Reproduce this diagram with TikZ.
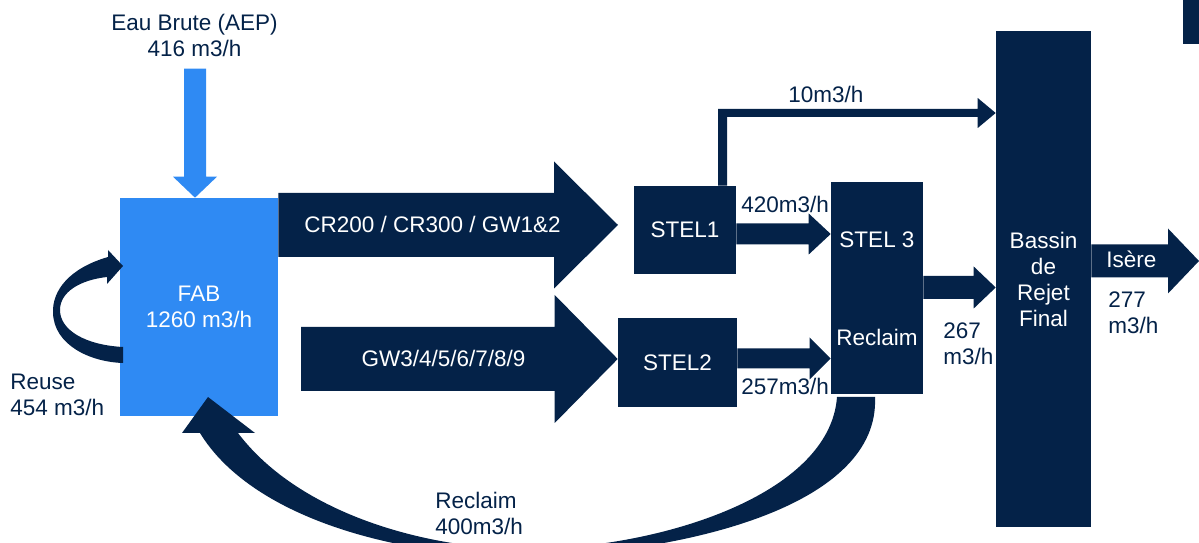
\documentclass[tikz,border=0pt]{standalone}
\usepackage{fontspec}
\setmainfont{Liberation Sans}
\usetikzlibrary{calc}
\definecolor{navy}{HTML}{042248}
\definecolor{skyblue}{HTML}{2F8AF3}

% block arrow: [colour]{tail}{tip}{half shaft}{half head}{head length}
\newcommand{\flowarrow}[6][navy]{%
  \fill[#1] ($(#2)+(0,-#4)$) -- ($(#3)+(-#6,-#4)$) -- ($(#3)+(-#6,-#5)$) -- (#3)
    -- ($(#3)+(-#6,#5)$) -- ($(#3)+(-#6,#4)$) -- ($(#2)+(0,#4)$) -- cycle;}

\begin{document}
\begin{tikzpicture}[x=0.025cm, y=-0.025cm,
  every node/.style={font=\fontsize{16}{18.5}\selectfont},
  box/.style={fill=navy, text=white, inner sep=0pt, align=center},
  lbl/.style={text=navy, inner sep=0pt, align=left}]
  \useasboundingbox (0,0) rectangle (1199,543);
  \clip (0,0) rectangle (1199,543);

  % one step = one pixel, y pointing down
  \node[box, fill=skyblue, minimum width=3.95cm, minimum height=5.45cm] (fab) at (199,307) {FAB\\1260 m3/h};
  \node[box, minimum width=2.55cm, minimum height=2.2cm] (stelA) at (685,230) {STEL1};
  \node[box, minimum width=2.975cm, minimum height=2.225cm] (stelB) at (677.5,362.5) {STEL2};
  \node[box, minimum width=2.3cm, minimum height=5.3cm] (stelC) at (877,288) {};
  \node[box, minimum width=2.375cm, minimum height=12.4cm] (bassin) at (1043.5,279) {Bassin\\de\\Rejet\\Final};
  \fill[navy] (1183,0) rectangle (1199,44);

  % raw water in
  \coordinate (aeptip) at (fab.north -| 195,0);
  \fill[skyblue] ($(aeptip)+(-11,-129)$) -- ($(aeptip)+(-11,-21)$) -- ($(aeptip)+(-22,-21)$) -- (aeptip)
    -- ($(aeptip)+(22,-21)$) -- ($(aeptip)+(11,-21)$) -- ($(aeptip)+(11,-129)$) -- cycle;

  % straight flows
  \coordinate (crtip) at (618,225);
  \coordinate (gwtail) at (301,359);
  \coordinate (iseretip) at (1199,261);
  \flowarrow{fab.east |- crtip}{crtip}{32}{63.5}{64}
  \flowarrow{gwtail}{stelB.west |- gwtail}{32}{64}{63}
  \flowarrow{stelA.east |- 0,234}{stelC.west |- 0,234}{10.5}{20.5}{22}
  \flowarrow{stelB.east |- 0,358.5}{stelC.west |- 0,358.5}{10}{21}{21}
  \flowarrow{stelC.east |- 0,287.5}{bassin.west |- 0,287.5}{11.5}{21}{22}
  \flowarrow{bassin.east |- iseretip}{iseretip}{16.5}{32.5}{31}

  % bypass STEL1 -> bassin
  \coordinate (tenfoot) at (stelA.north -| 722.5,0);
  \coordinate (tentip) at (bassin.west |- 0,113);
  \fill[navy] ($(tenfoot)+(-4.5,0)$) |- ($(tentip)+(-18,-4)$) -- ($(tentip)+(-18,-15)$) -- (tentip)
    -- ($(tentip)+(-18,15)$) -- ($(tentip)+(-18,4)$) -| ($(tenfoot)+(4.5,0)$) -- cycle;

  % reuse loop
  \fill[navy] (123,266) -- (108,250) -- (108,257) .. controls (70,268) and (52,290) .. (53,313)
    .. controls (54,345) and (90,362) .. (123,363) -- (123,347) .. controls (85,345) and (60,330) .. (60,310)
    .. controls (60,292) and (80,280) .. (107,277) -- (107,284) -- cycle;

  % reclaim back to FAB
  \fill[navy] (208,397) -- (255,433) -- (238,433) .. controls (300,515) and (430,550) .. (530,549)
    .. controls (660,548) and (830,495) .. (837,397) -- (875,397) .. controls (880,505) and (690,552) .. (530,557)
    .. controls (390,557) and (250,515) .. (200,433) -- (182,433) -- cycle;

  % labels
  \node[lbl, align=center] (aep) at (194.5,35) {Eau Brute (AEP)\\416 m3/h};
  \node[lbl, anchor=west] (reuse) at (10,395) {Reuse\\454 m3/h};
  \node[lbl, anchor=base, text=white] (crlbl) at (432.5,233) {CR200 / CR300 / GW1\&2};
  \node[lbl, anchor=base, text=white] (gwlbl) at (443.5,367) {GW3/4/5/6/7/8/9};
  \node[lbl, text=white] (stelCname) at (877,240) {STEL 3};
  \node[lbl, text=white] (stelCsub) at (877,337) {Reclaim};
  \node[lbl, anchor=base west] (q420) at (741,213) {420m3/h};
  \node[lbl, anchor=base west] (q257) at (741,395) {257m3/h};
  \node[lbl, anchor=base west] (q10) at (788,103) {10m3/h};
  \node[lbl, anchor=west] (q267) at (943,344) {267\\m3/h};
  \node[lbl, anchor=base west, text=white] (isere) at (1106,268) {Isère};
  \node[lbl, anchor=west] (q277) at (1108,313) {277\\m3/h};
  \node[lbl, anchor=west] (q400) at (435,513) {Reclaim\\400m3/h};
\end{tikzpicture}
\end{document}
